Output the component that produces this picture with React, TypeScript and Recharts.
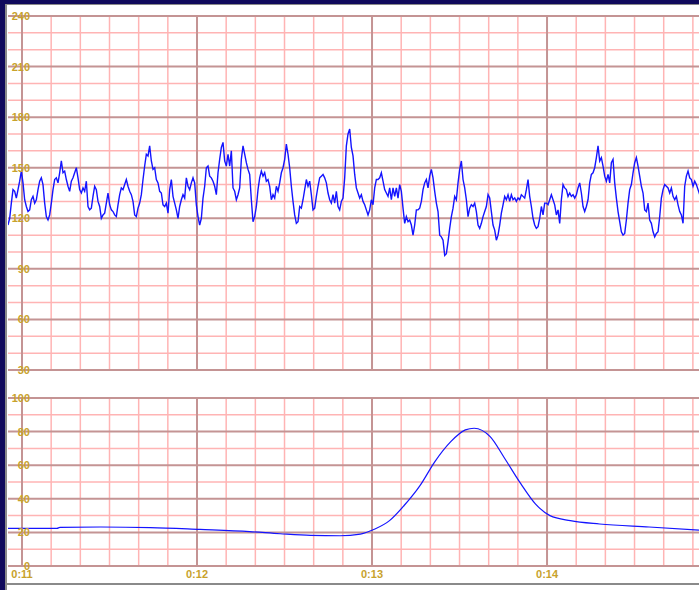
import React from 'react';
import { LineChart, Line, XAxis, YAxis, ReferenceLine } from 'recharts';

// Fetal heart rate (bpm), sampled every 60/105 s starting at 655.2 s (0:10:55.2)
const fhrPart1 = [
  116, 120, 129, 137, 136, 132, 137, 142, 148, 141,
  131, 127, 124, 125, 131, 133, 129, 131, 137, 142,
  144, 140, 129, 121, 119, 122, 129, 137, 143, 144,
  141, 147, 154, 147, 148, 143, 139, 136, 142, 144,
  147, 150, 144, 137, 135, 138, 136, 142, 127, 125,
  126, 133, 139, 137, 130, 127, 120, 122, 123, 129,
  135, 128, 125, 124, 122, 121, 128, 134, 138, 137,
  140, 143, 139, 136, 134, 130, 122, 121, 126, 129,
  134, 143, 151, 158, 157, 163, 154, 149, 150, 143,
  141, 136, 135, 128, 127, 129, 123, 137, 143, 133,
  129, 125, 120, 127,
];
const fhrPart2 = [
  131, 134, 132, 144, 139, 137, 141, 144, 141, 128,
  121, 116, 120, 132, 139, 150, 151, 145, 144, 142,
  139, 134, 147, 155, 162, 165, 154, 151, 158, 151,
  160, 138, 136, 131, 134, 138, 155, 163, 158, 153,
  149, 146, 131, 118, 121, 127, 137, 144, 148, 145,
  147, 142, 143, 139, 131, 134, 132, 139, 136, 141,
  147, 150, 155, 164, 158, 150, 139, 130, 122, 117,
  118, 127, 126, 131, 137, 143, 139, 142, 134, 125,
  126, 133, 139, 144, 145, 146, 144, 141, 135, 131,
  129, 134, 129, 136, 127, 125, 130, 132, 144, 163,
  170, 173,
];
const fhrPart3 = [
  162, 157, 146, 138, 135, 132, 134, 130, 128, 125,
  122, 125, 131, 128, 138, 143, 143, 144, 147, 142,
  137, 135, 133, 138, 131, 138, 133, 138, 132, 140,
  136, 126, 117, 121, 118, 119, 116, 110, 116, 125,
  125, 126, 130, 137, 141, 143, 138, 145, 149, 144,
  136, 129, 124, 110, 109, 107, 98, 99, 106, 114,
  121, 126, 133, 131, 141, 149, 154, 143, 138, 131,
  121, 126, 128, 127, 129, 124, 116, 114, 117, 121,
  124, 127, 134, 132, 124, 116, 113, 107, 110, 116,
  123, 128, 133, 131, 134, 130, 134, 131, 132, 130,
  132, 131, 134, 133, 132,
];
const fhrPart4 = [
  137, 143, 133, 127, 120, 116, 114, 115, 120, 127,
  122, 129, 129, 128, 131, 134, 131, 128, 122, 125,
  117, 131, 140, 138, 137, 133, 135, 133, 134, 132,
  134, 138, 141, 135, 127, 124, 127, 131, 141, 146,
  147, 150, 156, 163, 154, 156, 151, 145, 142, 146,
  141, 153, 155, 141, 132, 124, 118, 112, 110, 111,
  119, 129, 137, 140, 147, 153, 156, 151, 145, 139,
  135, 125, 124, 129, 119, 117, 112, 109, 111, 112,
  121, 132, 137, 140, 139, 138, 135, 138, 133, 131,
  133, 128, 124, 122, 117, 139, 145, 148, 144, 143,
  139, 142, 140, 137, 134,
];
const FHR_START = 655.2;
const FHR_STEP = 60 / 105;

// Uterine contractions
const ucTimes = [655.2, 672, 673, 687, 704, 721, 738, 748.5, 759, 769, 776, 781, 786, 791, 796.5, 801.5, 807, 812, 815, 820.5, 825.5, 831, 836, 841, 848, 858, 875, 892.1];
const ucValues = [22.4, 22.4, 23, 23.2, 22.9, 21.8, 20.5, 19.2, 18.2, 18.0, 19, 22, 27, 36, 48, 62, 74, 81, 82, 77, 64, 49, 37, 30, 27, 25, 23.2, 21.4];

// Axes
const X_DOMAIN: [number, number] = [655.2, 892.1];
const minuteTicks = [660, 720, 780, 840];
const minuteLabels = ['0:11', '0:12', '0:13', '0:14'];
const tenSecondLines = [670, 680, 690, 700, 710, 730, 740, 750, 760, 770, 790, 800, 810, 820, 830, 850, 860, 870, 880, 890];
const fhrTicks = [30, 60, 90, 120, 150, 180, 210, 240];
const fhrMinor = [40, 50, 70, 80, 100, 110, 130, 140, 160, 170, 190, 200, 220, 230];
const ucTicks = [0, 20, 40, 60, 80, 100];
const ucMinor = [10, 30, 50, 70, 90];

const fhrData = [...fhrPart1, ...fhrPart2, ...fhrPart3, ...fhrPart4].map((v, i) => ({ t: FHR_START + i * FHR_STEP, v }));
const ucData = ucTimes.map((t, i) => ({ t, v: ucValues[i] }));

const NAVY = '#100a5c';
const MINOR = '#ffb4b4';
const MAJOR = '#c49494';
const LABEL = '#c8a22c';
const TRACE = '#1414ff';
const FONT = 'Liberation Sans, Arial, sans-serif';

const YTick = (props: any) => (
  <text x={22} y={props.y} textAnchor="end" dominantBaseline="central" fill={LABEL} fontSize={11} fontWeight="bold" fontFamily={FONT}>
    {props.payload.value}
  </text>
);

const XTick = (props: any) => {
  const idx = minuteTicks.indexOf(props.payload.value);
  return (
    <text x={props.x} y={184} textAnchor="middle" dominantBaseline="central" fill={LABEL} fontSize={11} fontWeight="bold" fontFamily={FONT}>
      {minuteLabels[idx]}
    </text>
  );
};

const gridLines = (minorY: number[], majorY: number[]) => [
  ...minorY.map((y) => <ReferenceLine key={'hy' + y} y={y} stroke={MINOR} strokeWidth={1.5} />),
  ...tenSecondLines.map((x) => <ReferenceLine key={'vx' + x} x={x} stroke={MINOR} strokeWidth={1.5} />),
  ...majorY.map((y) => <ReferenceLine key={'HY' + y} y={y} stroke={MAJOR} strokeWidth={2} />),
  ...minuteTicks.map((x) => <ReferenceLine key={'VX' + x} x={x} stroke={MAJOR} strokeWidth={2} />),
];

export default function App() {
  return (
    <div style={{ position: 'absolute', left: 0, top: 0, width: 699, height: 590, background: NAVY, overflow: 'hidden' }}>
      <div style={{ position: 'absolute', left: 5, top: 4, width: 694, height: 586, background: '#ffffff', borderLeft: '2px solid #8a8a8a', borderTop: '1px solid #8a8a8a', boxSizing: 'border-box' }} />
      <div style={{ position: 'absolute', left: 7, top: 583, width: 692, height: 2, background: '#8a8a8a' }} />
      <div style={{ position: 'absolute', left: 8, top: 5 }}>
        <LineChart width={691} height={370} data={fhrData} margin={{ top: 11, right: 0, bottom: 5, left: 0 }}>
          <XAxis dataKey="t" type="number" domain={X_DOMAIN} hide allowDataOverflow />
          <YAxis type="number" domain={[30, 240]} ticks={fhrTicks} interval={0} mirror tickLine={false} axisLine={false} tick={<YTick />} allowDataOverflow />
          {gridLines(fhrMinor, fhrTicks)}
          <Line dataKey="v" type="linear" stroke={TRACE} strokeWidth={1.4} dot={false} isAnimationActive={false} />
        </LineChart>
      </div>
      <div style={{ position: 'absolute', left: 8, top: 390 }}>
        <LineChart width={691} height={192} data={ucData} margin={{ top: 8, right: 0, bottom: 0, left: 0 }}>
          <XAxis dataKey="t" type="number" domain={X_DOMAIN} ticks={minuteTicks} interval={0} height={16} tickLine={false} axisLine={false} tick={<XTick />} allowDataOverflow />
          <YAxis type="number" domain={[0, 100]} ticks={ucTicks} interval={0} mirror tickLine={false} axisLine={false} tick={<YTick />} allowDataOverflow />
          {gridLines(ucMinor, ucTicks)}
          <Line dataKey="v" type="monotone" stroke={TRACE} strokeWidth={1.2} dot={false} isAnimationActive={false} />
        </LineChart>
      </div>
    </div>
  );
}
